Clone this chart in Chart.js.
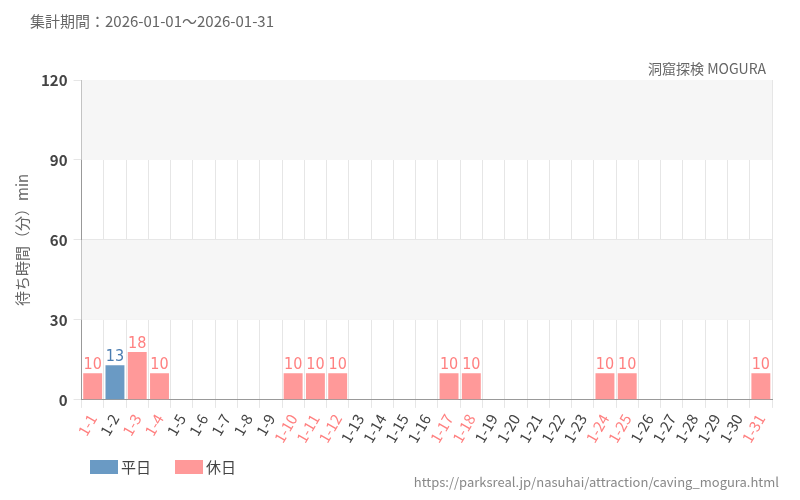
<!DOCTYPE html>
<html><head><meta charset="utf-8">
<script src="https://cdn.jsdelivr.net/npm/chart.js@4.4.1/dist/chart.umd.min.js"></script>
<style>html,body{margin:0;background:#fff}#wrap{width:800px;height:500px}</style>
</head><body><div id="wrap"><canvas id="c"></canvas></div>
<script>
// 日付ラベル
const days = ['1-1','1-2','1-3','1-4','1-5','1-6','1-7','1-8','1-9','1-10','1-11','1-12','1-13','1-14','1-15','1-16','1-17','1-18','1-19','1-20','1-21','1-22','1-23','1-24','1-25','1-26','1-27','1-28','1-29','1-30','1-31'];
const holidays = ['1-1','1-3','1-4','1-10','1-11','1-12','1-17','1-18','1-24','1-25','1-31'];
const weekdayWait = [null,13,null,null,null,null,null,null,null,null,null,null,null,null,null,null,null,null,null,null,null,null,null,null,null,null,null,null,null,null,null];
const holidayWait = [10,null,18,10,null,null,null,null,null,10,10,10,null,null,null,null,10,10,null,null,null,null,null,10,10,null,null,null,null,null,10];
const yTicks = [0,30,60,90,120];

const FONT = '"Noto Sans CJK JP","Noto Sans",sans-serif';
const BLUE = '#6a9ac4', PINK = '#ff9999';

const decor = {
  id: 'decor',
  beforeDatasetsDraw(chart) {
    const {ctx, chartArea: a, scales: {y}} = chart;
    ctx.save();
    ctx.fillStyle = '#f6f6f6';
    [[30,60],[90,120]].forEach(([lo,hi]) => {
      ctx.fillRect(a.left, y.getPixelForValue(hi), a.right - a.left, y.getPixelForValue(lo) - y.getPixelForValue(hi));
    });
    ctx.restore();
  },
  afterDraw(chart) {
    const {ctx} = chart;
    ctx.save();
    ctx.fillStyle = '#666';
    ctx.font = '15px ' + FONT;
    ctx.textBaseline = 'middle';
    ctx.textAlign = 'left';
    ctx.fillText('集計期間：2026-01-01～2026-01-31', 30, 21);
    ctx.font = '14px ' + FONT;
    ctx.textAlign = 'right';
    ctx.fillText('洞窟探検 MOGURA', 766, 69);
    ctx.fillStyle = '#888';
    ctx.font = '13px ' + FONT;
    ctx.fillText('https://parksreal.jp/nasuhai/attraction/caving_mogura.html', 779, 482);
    // 凡例
    ctx.textAlign = 'left';
    ctx.font = '15px ' + FONT;
    chart.data.datasets.forEach((ds, i) => {
      const x0 = 90 + i * 85;
      ctx.fillStyle = ds.backgroundColor;
      ctx.fillRect(x0, 460, 28, 14);
      ctx.fillStyle = '#444';
      ctx.fillText(ds.label, x0 + 31, 467);
    });
    // 値ラベル
    ctx.font = '16px "Liberation Sans Narrow","DejaVu Sans Condensed",sans-serif';
    ctx.textAlign = 'center';
    ctx.textBaseline = 'bottom';
    chart.data.datasets.forEach((ds, di) => {
      chart.getDatasetMeta(di).data.forEach((bar, i) => {
        const v = ds.data[i];
        if (v == null) return;
        ctx.fillStyle = di === 0 ? '#4a7cb0' : '#ff8080';
        ctx.fillText(v, bar.x, bar.y);
      });
    });
    ctx.restore();
  }
};

new Chart(document.getElementById('c'), {
  type: 'bar',
  data: {
    labels: days,
    datasets: [
      { label: '平日', data: weekdayWait, backgroundColor: BLUE, categoryPercentage: 0.85, barPercentage: 1 },
      { label: '休日', data: holidayWait, backgroundColor: PINK, categoryPercentage: 0.85, barPercentage: 1 }
    ]
  },
  options: {
    responsive: true, maintainAspectRatio: false, animation: false,
    layout: { padding: { top: 80, right: 28, left: 9, bottom: 51 } },
    plugins: { legend: { display: false }, tooltip: { enabled: false } },
    scales: {
      x: {
        stacked: true,
        grid: { color: '#e6e6e6' },
        border: { color: '#999' },
        ticks: {
          maxRotation: 60, minRotation: 60, autoSkip: false,
          font: { size: 15, family: FONT },
          color: ctx => holidays.includes(days[ctx.index]) ? '#ff8080' : '#444'
        }
      },
      y: {
        stacked: true, min: 0, max: 120,
        afterBuildTicks: s => { s.ticks = yTicks.map(v => ({ value: v })); },
        grid: { color: '#e6e6e6' },
        border: { color: '#999' },
        ticks: { font: { size: 15, family: FONT, weight: 'bold' }, color: '#444', padding: 6 },
        title: { display: true, text: '待ち時間（分）min', color: '#666', font: { size: 15, family: FONT } }
      }
    }
  },
  plugins: [decor]
});
</script></body></html>
